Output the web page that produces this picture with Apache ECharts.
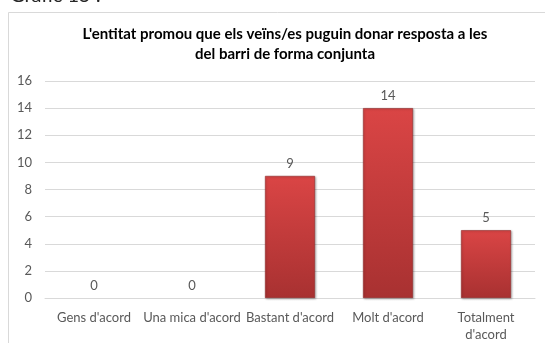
<!DOCTYPE html>
<html>
<head>
<meta charset="utf-8">
<script src="https://cdn.jsdelivr.net/npm/echarts@6/dist/echarts.min.js"></script>
<style>
  html, body { margin: 0; padding: 0; background: #fff; }
  #chart { width: 545px; height: 343px; }
</style>
</head>
<body>
<div id="chart"></div>
<script>
// Response categories and counts
const categories = ["Gens d'acord", "Una mica d'acord", "Bastant d'acord", "Molt d'acord", "Totalment d'acord"];
const counts = [0, 0, 9, 14, 5];
const yTicks = [0, 2, 4, 6, 8, 10, 12, 14, 16];

const titleLines = [
  "L'entitat promou que els veïns/es puguin donar resposta a les",
  "del barri de forma conjunta"
];
const captionText = "Gràfic 15 :";

const FONT = 'Lato, "Noto Sans", sans-serif';
const GREY = '#595959';

const chart = echarts.init(document.getElementById('chart'), null, { renderer: 'canvas' });

// Empty bars get no outline or shadow so nothing is drawn on the baseline
const barData = counts.map(function (v) {
  return v === 0
    ? { value: v, itemStyle: { borderWidth: 0, shadowBlur: 0, shadowOffsetX: 0, shadowOffsetY: 0, shadowColor: 'transparent' } }
    : { value: v };
});

chart.setOption({
  animation: false,
  backgroundColor: '#ffffff',
  graphic: [
    // chart frame
    {
      type: 'rect',
      shape: { x: 8.5, y: 12.5, width: 560, height: 360 },
      style: { fill: '#ffffff', stroke: '#d9d9d9', lineWidth: 1 },
      z: -10
    },
    // caption above the frame
    {
      type: 'text',
      left: 10,
      top: -14,
      style: { text: captionText, font: '20px ' + FONT, fill: '#262626' }
    }
  ],
  title: {
    text: titleLines.join('\n'),
    left: 280,
    textAlign: 'center',
    top: 19,
    textStyle: {
      fontFamily: FONT,
      fontWeight: 'bold',
      fontSize: 15,
      lineHeight: 20,
      color: '#000000'
    }
  },
  grid: { left: 45, right: 10, top: 81, bottom: 44, containLabel: false },
  xAxis: {
    type: 'category',
    data: categories,
    axisLine: { show: true, lineStyle: { color: '#d9d9d9', width: 1 } },
    axisTick: { show: false },
    axisLabel: {
      color: GREY,
      fontFamily: FONT,
      fontSize: 13,
      margin: 11,
      lineHeight: 17,
      interval: 0,
      formatter: function (v) {
        return v.length > 16 ? v.replace(' ', '\n') : v;
      }
    }
  },
  yAxis: {
    type: 'value',
    min: yTicks[0],
    max: yTicks[yTicks.length - 1],
    interval: 2,
    axisLine: { show: false },
    axisTick: { show: false },
    splitLine: { lineStyle: { color: '#d9d9d9', width: 1 } },
    axisLabel: { color: GREY, fontFamily: FONT, fontSize: 13, margin: 13 }
  },
  series: [{
    type: 'bar',
    data: barData,
    barWidth: '51%',
    itemStyle: {
      color: new echarts.graphic.LinearGradient(0, 0, 0, 1, [
        { offset: 0, color: '#da4545' },
        { offset: 1, color: '#a83131' }
      ]),
      borderColor: '#8e2a2a',
      borderWidth: 0.6,
      shadowColor: 'rgba(0,0,0,0.25)',
      shadowBlur: 2,
      shadowOffsetX: 1,
      shadowOffsetY: 1
    },
    label: {
      show: true,
      position: 'top',
      distance: 6,
      color: GREY,
      fontFamily: FONT,
      fontSize: 13
    }
  }]
});
</script>
</body>
</html>
